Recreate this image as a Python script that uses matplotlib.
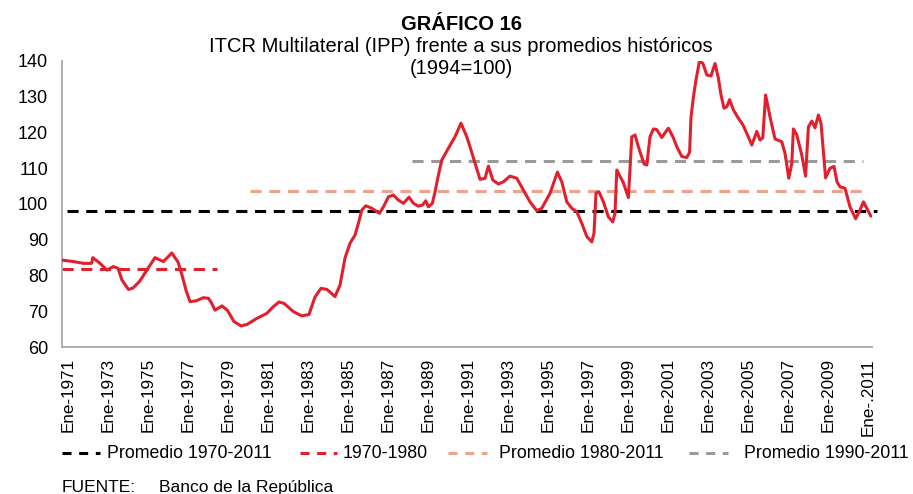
import matplotlib
matplotlib.use("Agg")
import matplotlib.pyplot as plt
from matplotlib.lines import Line2D

plt.rcParams['font.family'] = ['Liberation Sans', 'DejaVu Sans']
plt.rcParams['lines.scale_dashes'] = False

# ITCR multilateral (IPP), 1994 = 100 -- time in decimal years
fecha = [1970.72, 1971.27, 1971.77, 1972.18, 1972.24, 1972.60, 1972.95, 1973.10,
         1973.27, 1973.50, 1973.70, 1974.02, 1974.25, 1974.60, 1974.94, 1975.35,
         1975.77, 1976.19, 1976.50, 1976.70, 1976.90, 1977.10, 1977.40, 1977.77,
         1978.02, 1978.15, 1978.35, 1978.70, 1978.98, 1979.30, 1979.65, 1979.95,
         1980.44, 1980.94, 1981.25, 1981.55, 1981.80, 1982.27, 1982.69, 1983.05,
         1983.35, 1983.65, 1983.95, 1984.35, 1984.60, 1984.85, 1985.10, 1985.35,
         1985.52, 1985.69, 1985.89, 1986.19, 1986.57, 1986.77, 1987.02, 1987.27,
         1987.52, 1987.77, 1988.05, 1988.27, 1988.52, 1988.72, 1988.89, 1989.02,
         1989.22, 1989.35, 1989.52, 1989.69, 1990.02, 1990.35, 1990.65, 1990.94,
         1991.10, 1991.35, 1991.60, 1991.85, 1992.02, 1992.24, 1992.52, 1992.77,
         1993.10, 1993.44, 1993.77, 1994.10, 1994.44, 1994.69, 1995.10, 1995.47,
         1995.69, 1995.94, 1996.19, 1996.44, 1996.69, 1996.94, 1997.19, 1997.30,
         1997.40, 1997.55, 1997.77, 1998.02, 1998.24, 1998.35, 1998.44, 1998.77,
         1999.02, 1999.19, 1999.35, 1999.52, 1999.80, 1999.94, 2000.10, 2000.27,
         2000.44, 2000.69, 2000.90, 2001.02, 2001.27, 2001.45, 2001.69, 2001.94,
         2002.08, 2002.15, 2002.27, 2002.40, 2002.57, 2002.74, 2002.94, 2003.15,
         2003.35, 2003.52, 2003.65, 2003.80, 2003.94, 2004.08, 2004.27, 2004.52,
         2004.75, 2005.00, 2005.19, 2005.44, 2005.60, 2005.74, 2005.88, 2006.10,
         2006.35, 2006.69, 2006.85, 2007.04, 2007.19, 2007.27, 2007.44, 2007.69,
         2007.88, 2008.02, 2008.19, 2008.35, 2008.52, 2008.65, 2008.88, 2009.10,
         2009.30, 2009.45, 2009.60, 2009.85, 2010.10, 2010.38, 2010.60, 2010.77,
         2010.94, 2011.14]
itcr = [84.3, 83.9, 83.4, 83.4, 85.0, 83.4, 81.5, 82.0,
        82.5, 82.0, 78.7, 76.1, 76.5, 78.5, 81.5, 85.0,
        83.9, 86.3, 83.8, 80.1, 75.9, 72.7, 72.9, 73.8,
        73.6, 72.6, 70.3, 71.5, 70.2, 67.1, 65.9, 66.3,
        68.0, 69.4, 71.2, 72.6, 72.2, 69.9, 68.7, 69.1,
        74.0, 76.4, 76.1, 74.1, 77.3, 84.9, 89.0, 91.3,
        94.6, 98.3, 99.5, 98.8, 97.4, 99.2, 102.0, 102.5,
        101.1, 100.2, 101.9, 100.2, 99.4, 99.7, 100.9, 99.2,
        100.2, 103.4, 108.1, 112.3, 115.6, 118.8, 122.6, 118.8,
        116.0, 111.4, 106.9, 107.2, 110.6, 106.7, 105.6, 106.2,
        107.8, 107.2, 103.9, 100.6, 98.1, 98.8, 103.0, 108.9,
        106.2, 100.6, 98.8, 97.8, 94.6, 90.9, 89.4, 91.8,
        103.1, 103.4, 100.6, 96.4, 95.0, 97.4, 109.5, 105.9,
        101.8, 118.8, 119.3, 116.0, 111.2, 110.9, 118.8, 121.0,
        120.8, 118.6, 120.3, 121.2, 118.5, 115.9, 113.3, 113.0,
        114.5, 124.3, 129.9, 134.7, 139.9, 139.4, 136.1, 135.8,
        139.3, 135.2, 130.5, 126.8, 127.2, 129.2, 126.3, 124.0,
        122.1, 119.0, 116.5, 120.3, 117.9, 118.5, 130.5, 124.4,
        118.2, 117.4, 114.2, 107.2, 111.4, 121.0, 119.3, 113.7,
        107.8, 121.6, 123.2, 121.3, 124.9, 122.6, 107.3, 110.0,
        110.5, 106.2, 104.8, 104.4, 99.2, 95.9, 98.3, 100.6,
        98.8, 96.6]

# Historical averages: (label, value, start, end)
prom_nombres = ['Promedio 1970-2011', '1970-1980', 'Promedio 1980-2011', 'Promedio 1990-2011']
prom_valores = [98.0, 81.7, 103.7, 111.9]
prom_desde = [1970.95, 1970.70, 1980.10, 1988.20]
prom_hasta = [2011.45, 1978.45, 2011.00, 2010.75]
prom_colores = ['#000000', '#E2202D', '#F0A28A', '#9A9A9A']

tick_anios = list(range(1971, 2012, 2))
tick_textos = ['Ene-%d' % a for a in tick_anios[:-1]] + ['Ene-.2011']

W, H = 913, 494
fig = plt.figure(figsize=(W / 100, H / 100), dpi=100)
ax = fig.add_axes([62 / W, 1 - 347 / H, (872 - 62) / W, (347 - 61) / H])

for v, x0, x1, c in zip(prom_valores, prom_desde, prom_hasta, prom_colores):
    ax.plot([x0, x1], [v, v], color=c, lw=2.2, dashes=(8, 5.5), clip_on=False, zorder=2)

ax.plot(fecha, itcr, color='#E2202D', lw=2.2, solid_joinstyle='round',
        solid_capstyle='round', zorder=3)

ax.set_xlim(1970.7, 2011.2)
ax.set_ylim(60, 140)
ax.set_yticks(range(60, 141, 10))
ax.set_xticks(tick_anios)
ax.set_xticklabels(tick_textos, rotation=90, va='top', ha='center')
ax.tick_params(axis='x', length=0, pad=8, labelsize=12.3)
ax.tick_params(axis='y', length=0, pad=10, labelsize=13)
for s in ['top', 'right']:
    ax.spines[s].set_visible(False)
for s in ['left', 'bottom']:
    ax.spines[s].set_color('#A8A8A8')
    ax.spines[s].set_linewidth(1.3)

fig.text(461 / W, 1 - 24 / H, 'GRÁFICO 16', ha='center', va='center',
         fontsize=14.5, fontweight='bold')
fig.text(461 / W, 1 - 46 / H, 'ITCR Multilateral (IPP) frente a sus promedios históricos',
         ha='center', va='center', fontsize=14.5)
fig.text(461 / W, 1 - 68 / H, '(1994=100)', ha='center', va='center', fontsize=14.5)

# Legend entries laid out along one row below the axis labels
leg_y = 1 - 453 / H
leg_muestra = [(62, 100), (300, 337), (448, 487), (689, 728)]
leg_texto_x = [107, 343, 499, 744]
for (xa, xb), xt, nombre, c in zip(leg_muestra, leg_texto_x, prom_nombres, prom_colores):
    fig.add_artist(Line2D([xa / W, xb / W], [leg_y, leg_y], color=c, lw=2.2,
                          dashes=(6.5, 5.5), transform=fig.transFigure))
    fig.text(xt / W, leg_y, nombre, ha='left', va='center', fontsize=12.8)

fig.text(62 / W, 1 - 487 / H, 'FUENTE:', ha='left', va='center', fontsize=12.5)
fig.text(159 / W, 1 - 487 / H, 'Banco de la República', ha='left', va='center', fontsize=12.5)

fig.savefig('out.png', dpi=100)
